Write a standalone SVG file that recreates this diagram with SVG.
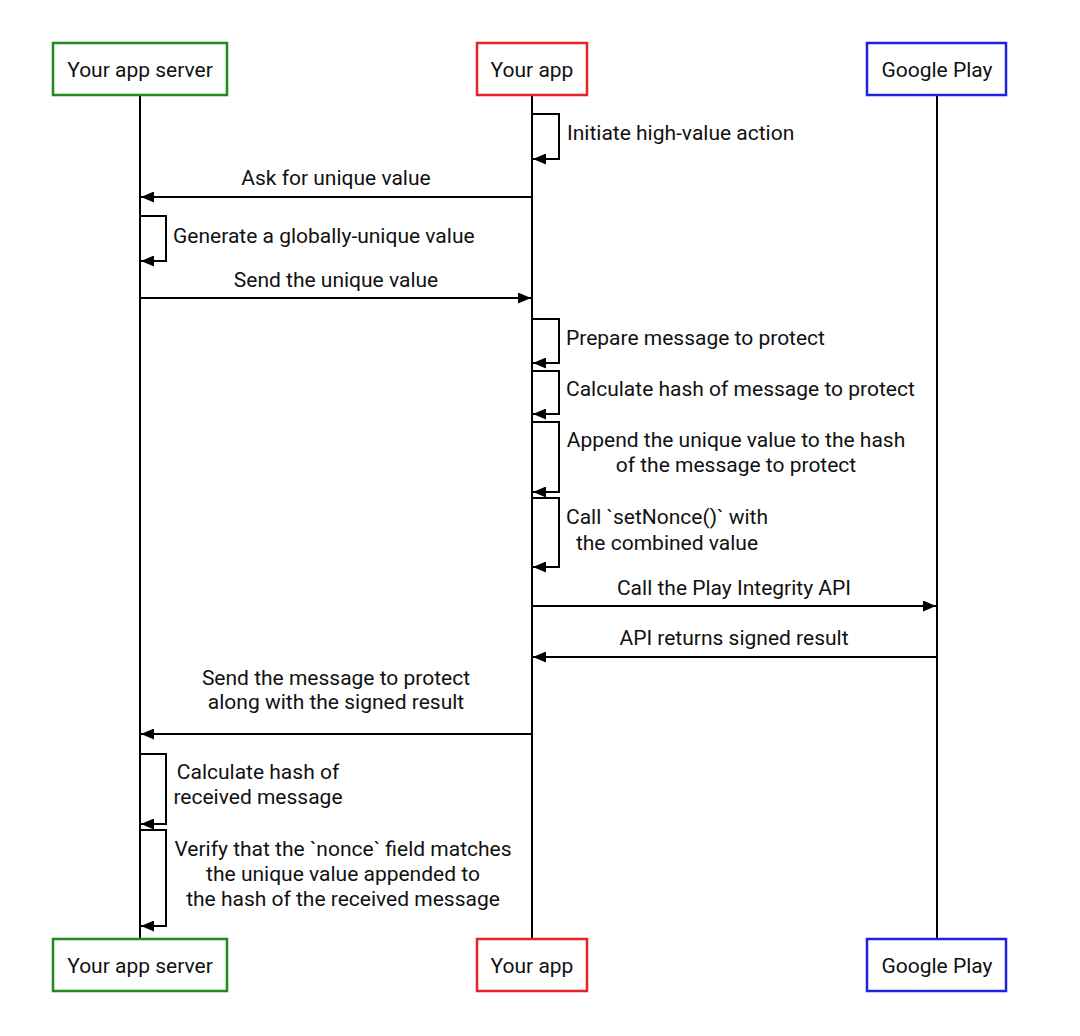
<svg xmlns="http://www.w3.org/2000/svg" width="1080" height="1036" viewBox="0 0 1080 1036">
<defs>
<marker id="ah" viewBox="0 0 13 11" refX="13" refY="5.5" markerWidth="13" markerHeight="11" markerUnits="userSpaceOnUse" orient="auto">
<path d="M0,0 L13,5.5 L0,11 Z" fill="#000"/>
</marker>
</defs>
<style>
text{font-family:Roboto,"Liberation Sans",sans-serif;font-size:21px;fill:#111}
.c{text-anchor:middle}
.box{fill:#fff;stroke-width:2.5}
.g{stroke:#1e8c1e}
.r{stroke:#e5232a}
.b{stroke:#2121e0}
.life{stroke:#000;stroke-width:2;fill:none}
.msg{stroke:#000;stroke-width:2;fill:none;marker-end:url(#ah)}
</style>
<rect width="1080" height="1036" fill="#fff"/>
<g id="lifelines">
<line class="life" x1="140" y1="95" x2="140" y2="939"/>
<line class="life" x1="532" y1="95" x2="532" y2="939"/>
<line class="life" x1="937" y1="95" x2="937" y2="939"/>
</g>
<g id="server-top"><rect class="box g" x="53" y="43" width="174" height="52"/><text class="c" x="140" y="77">Your app server</text></g>
<g id="app-top"><rect class="box r" x="477" y="43" width="110" height="52"/><text class="c" x="532" y="77">Your app</text></g>
<g id="play-top"><rect class="box b" x="867" y="43" width="139" height="52"/><text class="c" x="937" y="77">Google Play</text></g>
<g id="server-bottom"><rect class="box g" x="53" y="939" width="174" height="52"/><text class="c" x="140" y="973">Your app server</text></g>
<g id="app-bottom"><rect class="box r" x="477" y="939" width="110" height="52"/><text class="c" x="532" y="973">Your app</text></g>
<g id="play-bottom"><rect class="box b" x="867" y="939" width="139" height="52"/><text class="c" x="937" y="973">Google Play</text></g>
<g id="connectors">
<path class="msg" d="M532,114 H559 V159 H533"/>
<path class="msg" d="M532,197 H141"/>
<path class="msg" d="M140,216 H166 V261 H141"/>
<path class="msg" d="M140,298 H531"/>
<path class="msg" d="M532,319 H559 V363 H533"/>
<path class="msg" d="M532,371 H559 V414 H533"/>
<path class="msg" d="M532,422 H559 V492 H533"/>
<path class="msg" d="M532,498 H559 V567 H533"/>
<path class="msg" d="M532,606 H936"/>
<path class="msg" d="M937,657 H533"/>
<path class="msg" d="M532,734 H141"/>
<path class="msg" d="M140,754 H166 V824 H141"/>
<path class="msg" d="M140,830 H166 V926 H141"/>
</g>
<g id="labels">
<text x="567" y="140">Initiate high-value action</text>
<text class="c" x="336" y="185">Ask for unique value</text>
<text x="173" y="243">Generate a globally-unique value</text>
<text class="c" x="336" y="287">Send the unique value</text>
<text x="566" y="345">Prepare message to protect</text>
<text x="566" y="396">Calculate hash of message to protect</text>
<text class="c" x="736" y="447">Append the unique value to the hash</text>
<text class="c" x="736" y="472">of the message to protect</text>
<text class="c" x="667" y="524">Call `setNonce()` with</text>
<text class="c" x="667" y="550">the combined value</text>
<text class="c" x="734" y="595">Call the Play Integrity API</text>
<text class="c" x="734" y="645">API returns signed result</text>
<text class="c" x="336" y="685">Send the message to protect</text>
<text class="c" x="336" y="709">along with the signed result</text>
<text class="c" x="258" y="779">Calculate hash of</text>
<text class="c" x="258" y="804">received message</text>
<text class="c" x="343" y="856">Verify that the `nonce` field matches</text>
<text class="c" x="343" y="881">the unique value appended to</text>
<text class="c" x="343" y="906">the hash of the received message</text>
</g>
</svg>
